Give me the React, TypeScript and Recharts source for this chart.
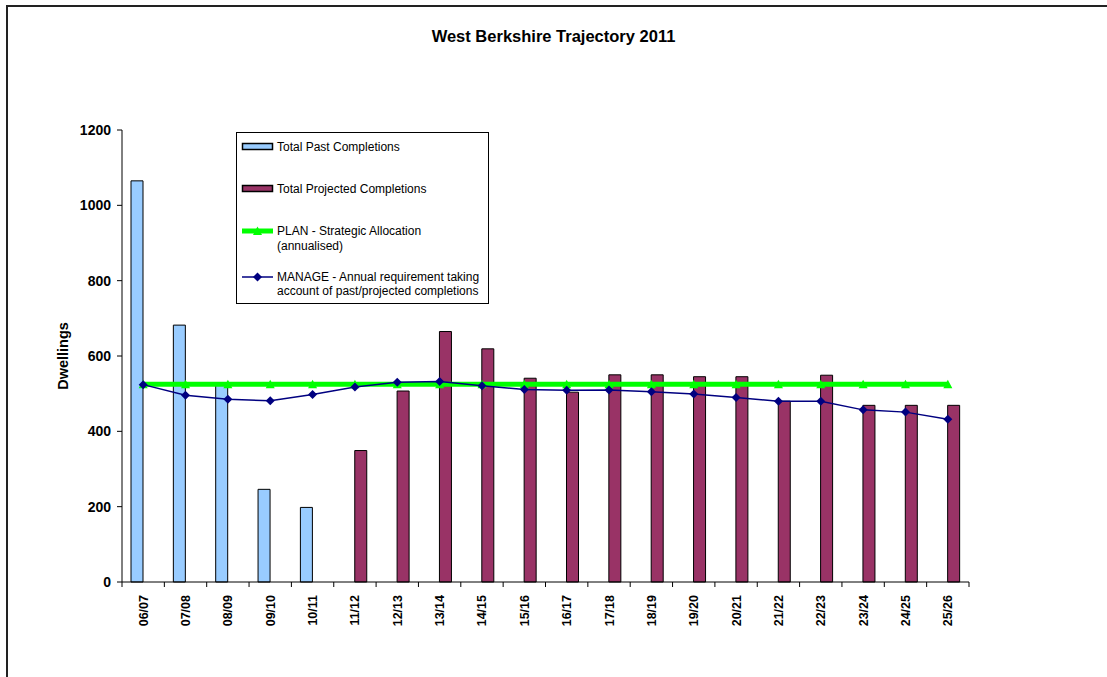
import React from 'react';
import { ComposedChart, Bar, Line, XAxis, YAxis, Legend } from 'recharts';

const YEARS = [
  '06/07', '07/08', '08/09', '09/10', '10/11', '11/12', '12/13', '13/14', '14/15', '15/16',
  '16/17', '17/18', '18/19', '19/20', '20/21', '21/22', '22/23', '23/24', '24/25', '25/26',
];

const PAST = [1065, 682, 522, 246, 198, null, null, null, null, null,
  null, null, null, null, null, null, null, null, null, null];

const PROJECTED = [null, null, null, null, null, 349, 507, 665, 619, 541,
  504, 550, 550, 545, 545, 480, 549, 469, 469, 469];

const PLAN = [525, 525, 525, 525, 525, 525, 525, 525, 525, 525,
  525, 525, 525, 525, 525, 525, 525, 525, 525, 525];

const MANAGE = [524, 496, 485, 481, 498, 518, 530, 532, 521, 511,
  509, 510, 505, 499, 490, 480, 480, 457, 451, 432];

const Y_TICKS = [0, 200, 400, 600, 800, 1000, 1200];

const FONT = 'Arial, "Liberation Sans", sans-serif';
const TICK_SIZE = 5;
const TICK_MARGIN = 8;

const data = YEARS.map((year, i) => ({
  year,
  past: PAST[i],
  projected: PROJECTED[i],
  plan: PLAN[i],
  manage: MANAGE[i],
}));

const Triangle = (props: any) => {
  const { cx, cy } = props;
  if (cx == null || cy == null) return null;
  return <path d={`M${cx - 4.5},${cy + 4} L${cx},${cy - 4.5} L${cx + 4.5},${cy + 4} Z`} fill="#00ff00" />;
};

const Diamond = (props: any) => {
  const { cx, cy } = props;
  if (cx == null || cy == null) return null;
  return <path d={`M${cx},${cy - 4.5} L${cx + 4.5},${cy} L${cx},${cy + 4.5} L${cx - 4.5},${cy} Z`} fill="#000080" />;
};

// Excel style: tick marks sit between categories, labels run bottom to top
const XTick = (props: any) => {
  const { x, y, payload } = props;
  const half = payload.offset ?? 0;
  const top = y - TICK_SIZE - TICK_MARGIN;
  const isLast = payload.value === YEARS[YEARS.length - 1];
  return (
    <g>
      <line x1={x - half} x2={x - half} y1={top} y2={top + TICK_SIZE} stroke="#000" />
      {isLast && <line x1={x + half} x2={x + half} y1={top} y2={top + TICK_SIZE} stroke="#000" />}
      <text
        x={x}
        y={y}
        dy={4.5}
        transform={`rotate(-90 ${x} ${y})`}
        textAnchor="end"
        fontFamily={FONT}
        fontWeight="bold"
        fontSize={12.5}
        fill="#000"
      >
        {payload.value}
      </text>
    </g>
  );
};

const YLabel = (props: any) => {
  const vb = props.viewBox || { x: 0, y: 130, width: 122, height: 452 };
  const cx = vb.x + 62.5;
  const cy = vb.y + vb.height / 2;
  return (
    <text
      x={cx}
      y={cy}
      dy={5}
      transform={`rotate(-90 ${cx} ${cy})`}
      textAnchor="middle"
      fontFamily={FONT}
      fontWeight="bold"
      fontSize={14.5}
      fill="#000"
    >
      Dwellings
    </text>
  );
};

const LegendBox = () => {
  const txt = { fontFamily: FONT, fontSize: 12, fill: '#000' };
  return (
    <svg width={254} height={173} style={{ display: 'block' }}>
      <rect x={0.5} y={0.5} width={252} height={171} fill="#fff" stroke="#000" />
      <rect x={6.5} y={11.5} width={30} height={6} fill="#99ccff" stroke="#000" strokeWidth={1.5} />
      <text x={41} y={18.5} {...txt}>Total Past Completions</text>
      <rect x={6.5} y={53.5} width={30} height={6} fill="#993366" stroke="#000" strokeWidth={1.5} />
      <text x={41} y={60.5} {...txt}>Total Projected Completions</text>
      <line x1={6} x2={37} y1={99} y2={99} stroke="#00ff00" strokeWidth={5} />
      <Triangle cx={21.5} cy={99} />
      <text x={41} y={103} {...txt}>PLAN - Strategic Allocation</text>
      <text x={41} y={118} {...txt}>(annualised)</text>
      <line x1={6} x2={37} y1={145} y2={145} stroke="#000080" strokeWidth={1.5} />
      <Diamond cx={21.5} cy={145} />
      <text x={41} y={149} {...txt}>MANAGE - Annual requirement taking</text>
      <text x={41} y={163} {...txt}>account of past/projected completions</text>
    </svg>
  );
};

export default function App() {
  return (
    <div style={{ position: 'absolute', left: 0, top: 0, width: 1107, height: 677, overflow: 'hidden', background: '#fff' }}>
      {/* outer chart frame, only its top and left edges are in view */}
      <div style={{ position: 'absolute', left: 6, top: 5, width: 1200, height: 800, borderLeft: '2px solid #222', borderTop: '2px solid #222' }} />
      <div
        style={{
          position: 'absolute', left: 0, top: 27, width: 1107, textAlign: 'center',
          fontFamily: FONT, fontWeight: 'bold', fontSize: 16.5, color: '#000',
        }}
      >
        West Berkshire Trajectory 2011
      </div>
      <div style={{ position: 'absolute', left: 0, top: 0 }}>
        <ComposedChart
          width={1107}
          height={677}
          data={data}
          margin={{ top: 130, right: 138, bottom: 35, left: 0 }}
          barGap={0}
        >
          <XAxis
            dataKey="year"
            height={60}
            axisLine={{ stroke: '#000' }}
            tickLine={false}
            tickSize={TICK_SIZE}
            tickMargin={TICK_MARGIN}
            interval={0}
            tick={<XTick />}
          />
          <YAxis
            width={122}
            domain={[0, 1200]}
            ticks={Y_TICKS}
            interval={0}
            axisLine={{ stroke: '#000' }}
            tickLine={{ stroke: '#000' }}
            tickSize={5}
            tickMargin={6}
            tick={{ fontFamily: FONT, fontWeight: 'bold', fontSize: 14, fill: '#000' }}
            label={<YLabel />}
          />
          <Legend
            layout="vertical"
            align="center"
            verticalAlign="middle"
            content={<LegendBox />}
            wrapperStyle={{ position: 'absolute', left: 236, top: 132, width: 254, height: 173 }}
          />
          <Bar dataKey="past" name="Total Past Completions" barSize={12} fill="#99ccff" stroke="#000" strokeWidth={1} isAnimationActive={false} />
          <Bar dataKey="projected" name="Total Projected Completions" barSize={12} fill="#993366" stroke="#000" strokeWidth={1} isAnimationActive={false} />
          <Line
            dataKey="plan"
            name="PLAN - Strategic Allocation (annualised)"
            stroke="#00ff00"
            strokeWidth={5}
            dot={<Triangle />}
            activeDot={false}
            isAnimationActive={false}
          />
          <Line
            dataKey="manage"
            name="MANAGE - Annual requirement taking account of past/projected completions"
            stroke="#000080"
            strokeWidth={1.5}
            dot={<Diamond />}
            activeDot={false}
            isAnimationActive={false}
          />
        </ComposedChart>
      </div>
    </div>
  );
}
